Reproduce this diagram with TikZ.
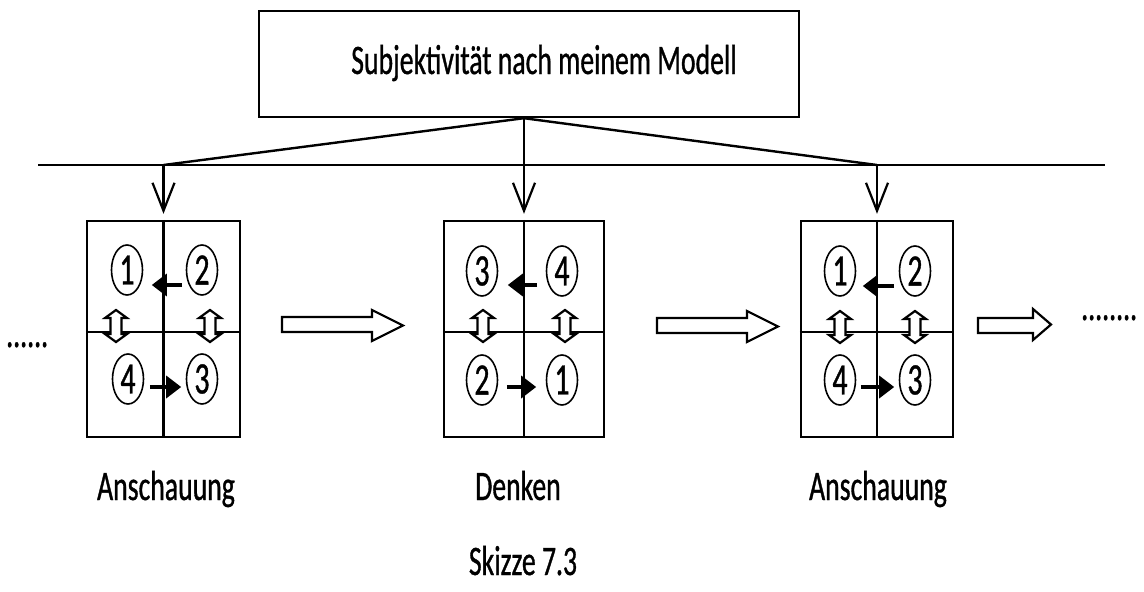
\documentclass[tikz,border=0pt]{standalone}
\usepackage{fontspec}
\setmainfont{Carlito}[FakeStretch=0.66,FakeBold=0.8]
\usetikzlibrary{arrows.meta,shapes.geometric}
\newcommand\diafont{\fontsize{42}{50}\selectfont}
\newcommand\digitfont{\fontsize{45}{50}\selectfont}
\begin{document}
\begin{tikzpicture}[x=1pt,y=-1pt,
  line/.style={line width=2.4pt},
  frame/.style={draw, line width=2.4pt, inner sep=0pt},
  box/.style={frame, minimum height=216pt},
  num/.style={draw, ellipse, line width=1.6pt, minimum width=31pt,
    minimum height=50pt, inner sep=0pt, font=\digitfont},
  txt/.style={font=\diafont, inner sep=0pt, anchor=base},
  down/.style={line width=2.2pt, shorten >=6pt,
    -{Straight Barb[length=28pt,width=22pt]}},
  turn/.style={line width=3.5pt, -{Triangle[length=15pt,width=22pt]}},
  hollow/.style={draw, fill=white, line width=2.2pt, line join=miter},
  updown/.pic={\path[hollow] (0,-16) -- (11,-8) -- (5.5,-8) -- (5.5,8) -- (11,8)
    -- (0,16) -- (-11,8) -- (-5.5,8) -- (-5.5,-8) -- (-11,-8) -- cycle;}
]
\useasboundingbox (0,0) rectangle (1144,592);

% title box
\node[frame, minimum width=540pt, minimum height=106pt, text height=30pt,
  text depth=10pt, font=\diafont] (top) at (529,64)
  {\hspace*{30pt}Subjektivität nach meinem Modell};

% the three four-field boxes
\node[box, minimum width=153pt] (b1) at (163.5,329) {};
\node[box, minimum width=160pt] (b2) at (524,329) {};
\node[box, minimum width=152pt] (b3) at (877,329) {};
\foreach \b in {b1,b2,b3}{
  \draw[line] (\b.north) -- (\b.south);
  \draw[line] ([yshift=-3pt]\b.west) -- ([yshift=-3pt]\b.east);
}

% distribution lines from the title
\coordinate (apex) at ([xshift=-5pt]top.south);
\coordinate (hl) at (38,165);
\coordinate (hr) at (1105,165);
\coordinate (j1) at (163.5,165);
\coordinate (j3) at (877,165);
\draw[line] (hl) -- (hr);
\draw[line] (apex) -- (j1);
\draw[line] (apex) -- (j3);
\draw[down] (j1) -- (b1.north);
\draw[down] (apex) -- (b2.north);
\draw[down] (j3) -- (b3.north);

% double arrows across the middle line
\foreach \x/\y in {116/326,210/326,483/326,565/326,840/327,915/327}
  \pic at (\x,\y) {updown};

% circled numbers, box 1
\node[num] (a1) at (127,270) {1};
\node[num] (a2) at (202,270) {2};
\node[num] (a4) at (128,379) {4};
\node[num] (a3) at (202,379) {3};
\draw[turn] ([xshift=-3.5pt,yshift=-15pt]a2.west) -- ([xshift=8.5pt,yshift=-15pt]a1.east);
\draw[turn] ([xshift=5.5pt,yshift=-8pt]a4.east) -- ([xshift=-4.5pt,yshift=-8pt]a3.west);

% circled numbers, box 2
\node[num] (d3) at (482,271) {3};
\node[num] (d4) at (562,271) {4};
\node[num] (d2) at (482,380) {2};
\node[num] (d1) at (562,380) {1};
\draw[turn] ([xshift=-8.5pt,yshift=-14pt]d4.west) -- ([xshift=9.5pt,yshift=-14pt]d3.east);
\draw[turn] ([xshift=8.5pt,yshift=-7pt]d2.east) -- ([xshift=-9.5pt,yshift=-7pt]d1.west);

% circled numbers, box 3
\node[num] (c1) at (840,271) {1};
\node[num] (c2) at (915,271) {2};
\node[num] (c4) at (840,380) {4};
\node[num] (c3) at (915,380) {3};
\draw[turn] ([xshift=-4.5pt,yshift=-15pt]c2.west) -- ([xshift=6.5pt,yshift=-15pt]c1.east);
\draw[turn] ([xshift=4.5pt,yshift=-7pt]c4.east) -- ([xshift=-4.5pt,yshift=-7pt]c3.west);

% hollow block arrows between the boxes
\path[hollow] (282,317) -- (372,317) -- (372,310) -- (403,325.5) -- (372,341)
  -- (372,332) -- (282,332) -- cycle;
\path[hollow] (657,318) -- (747,318) -- (747,311) -- (778,326.5) -- (747,342)
  -- (747,333) -- (657,333) -- cycle;
\path[hollow] (978,318) -- (1033,318) -- (1033,309) -- (1051,324.5) -- (1033,340)
  -- (1033,333) -- (978,333) -- cycle;

% continuation dots
\node[txt, anchor=base west] (dl) at (6,347) {......};
\node[txt, anchor=base west] (dr) at (1081,320) {........};

% labels
\node[txt] (l1) at (166,500) {Anschauung};
\node[txt] (l2) at (518,500) {Denken};
\node[txt] (l3) at (878,500) {Anschauung};
\node[txt] (cap) at (523,575) {Skizze 7.3};
\end{tikzpicture}
\end{document}
